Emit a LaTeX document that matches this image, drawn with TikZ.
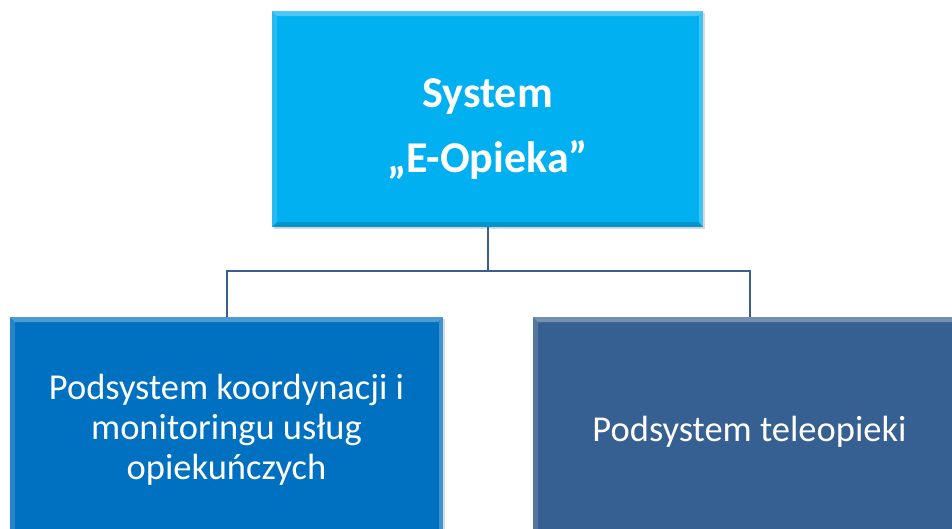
\documentclass[tikz,border=0pt]{standalone}
\usepackage{fontspec}
\setmainfont{Carlito}
\usetikzlibrary{shadows}
\definecolor{topc}{HTML}{00B0F0}
\definecolor{leftc}{HTML}{0070C0}
\definecolor{rightc}{HTML}{376092}
\definecolor{linec}{HTML}{3B5E8C}
\begin{document}
\begin{tikzpicture}[x=1pt,y=-1pt,
  box/.style={rectangle, inner sep=0pt, outer sep=0pt,
    drop shadow={shadow xshift=2pt, shadow yshift=-2pt, opacity=0.3},
    path picture={
      \fill[white,opacity=0.30] (path picture bounding box.north west) -- (path picture bounding box.north east)
        -- ([xshift=-5pt,yshift=-5pt]path picture bounding box.north east) -- ([xshift=5pt,yshift=-5pt]path picture bounding box.north west) -- cycle;
      \fill[white,opacity=0.15] (path picture bounding box.north west) -- ([xshift=5pt,yshift=-5pt]path picture bounding box.north west)
        -- ([xshift=5pt,yshift=5pt]path picture bounding box.south west) -- (path picture bounding box.south west) -- cycle;
      \fill[white,opacity=0.25] (path picture bounding box.north east) -- ([xshift=-4pt,yshift=-5pt]path picture bounding box.north east)
        -- ([xshift=-4pt,yshift=5pt]path picture bounding box.south east) -- (path picture bounding box.south east) -- cycle;
      \fill[black,opacity=0.15] (path picture bounding box.south west) -- (path picture bounding box.south east)
        -- ([xshift=-4pt,yshift=5pt]path picture bounding box.south east) -- ([xshift=5pt,yshift=5pt]path picture bounding box.south west) -- cycle;
    }},
  txt/.style={inner sep=0pt, text=white, align=center},
  conn/.style={draw=linec, line width=2pt}]
\useasboundingbox (0,0) rectangle (952,528);
\begin{scope}
\clip (0,0) rectangle (952,528);
\node[box, fill=topc, minimum width=431pt, minimum height=216pt] (top) at (487.5,119) {};
\node[box, fill=leftc, minimum width=433pt, minimum height=230pt] (left) at (226.5,432) {};
\node[box, fill=rightc, minimum width=433pt, minimum height=230pt] (right) at (749.5,432) {};
\node[txt, font=\fontsize{44}{50}\selectfont\bfseries] (toptext) at ([yshift=-10pt]top.center) {System\\[15pt]„E-Opieka”};
\node[txt, font=\fontsize{36.5}{40}\selectfont] (lefttext) at ([yshift=2pt]left.center) {Podsystem koordynacji i\\monitoringu usług\\opiekuńczych};
\node[txt, font=\fontsize{36.5}{40}\selectfont] (righttext) at (right.center) {Podsystem teleopieki};
\draw[conn] (top.south) -- ++(0,44) -| (left.north);
\draw[conn] (top.south) -- ++(0,44) -| (right.north);
\end{scope}
\end{tikzpicture}
\end{document}
